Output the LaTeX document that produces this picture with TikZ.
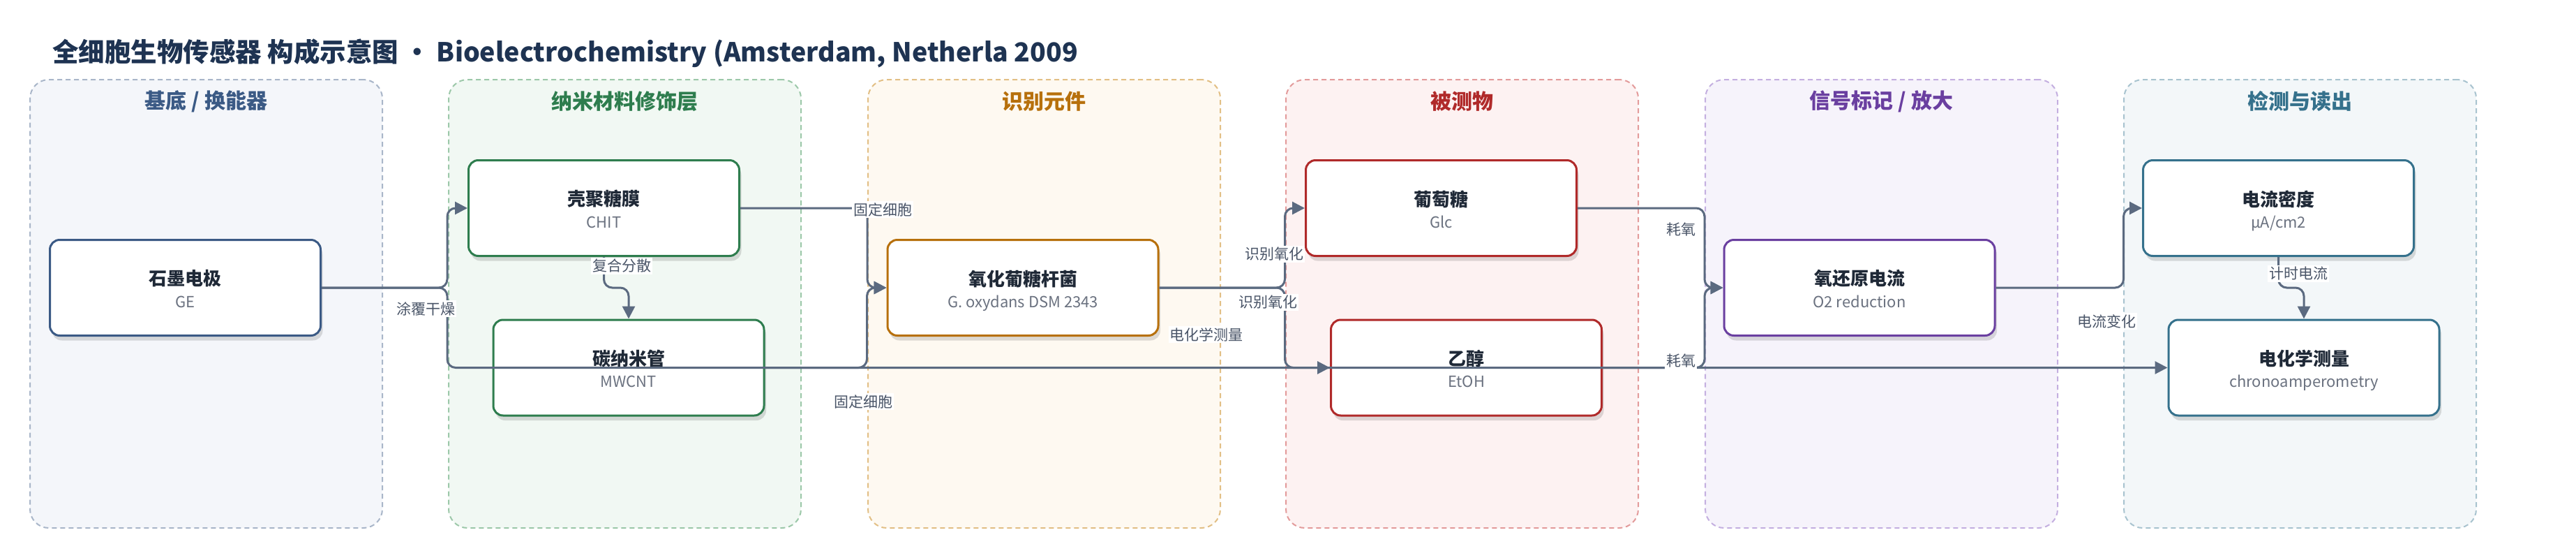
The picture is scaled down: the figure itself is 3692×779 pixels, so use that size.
\documentclass[tikz,border=0pt]{standalone}
\usepackage{fontspec}
\setmainfont{Noto Sans CJK SC}
\usetikzlibrary{arrows.meta,shadows,calc}
\definecolor{edgec}{HTML}{5B6A80}
\definecolor{titlec}{HTML}{1E3352}
\definecolor{ntc}{HTML}{1F2937}
\definecolor{nsc}{HTML}{6B7280}
\definecolor{elc}{HTML}{4A5568}
\definecolor{laneAf}{HTML}{F4F6FA}\definecolor{laneAd}{HTML}{A9B6C9}\definecolor{laneAt}{HTML}{3B5A85}
\definecolor{laneBf}{HTML}{F1F8F3}\definecolor{laneBd}{HTML}{9CC8A9}\definecolor{laneBt}{HTML}{2E7D4E}
\definecolor{laneCf}{HTML}{FEF9F1}\definecolor{laneCd}{HTML}{E2BF85}\definecolor{laneCt}{HTML}{B7700C}
\definecolor{laneDf}{HTML}{FDF2F2}\definecolor{laneDd}{HTML}{E39B9B}\definecolor{laneDt}{HTML}{B02A2A}
\definecolor{laneEf}{HTML}{F6F3FB}\definecolor{laneEd}{HTML}{C4AFE0}\definecolor{laneEt}{HTML}{6A3FA0}
\definecolor{laneFf}{HTML}{F3F7F9}\definecolor{laneFd}{HTML}{A8C3CF}\definecolor{laneFt}{HTML}{35718C}
\tikzset{
  lanebox/.style={rounded corners=27pt, dash pattern=on 7pt off 5pt, line width=2pt,
    minimum width=505pt, minimum height=642pt, inner sep=0pt},
  lanetitle/.style={font=\fontsize{30pt}{34pt}\selectfont\bfseries, anchor=center, inner sep=0pt},
  box/.style={rounded corners=14pt, line width=3pt, fill=white, minimum width=388pt,
    minimum height=137pt, inner sep=0pt,
    drop shadow={shadow xshift=3pt, shadow yshift=-7pt, opacity=0.13, fill=black}},
  ntitle/.style={font=\fontsize{26pt}{30pt}\selectfont\bfseries, text=ntc, inner sep=0pt},
  nsub/.style={font=\fontsize{22pt}{26pt}\selectfont, text=nsc, inner sep=0pt},
  edge/.style={draw=edgec, line width=3pt, rounded corners=12pt,
    -{Triangle[length=18pt,width=18pt]}},
  elabel/.style={font=\fontsize{21pt}{25pt}\selectfont, text=elc, fill=white, inner sep=2pt}
}
\newcommand\bnode[6]{%
  \node[box, draw=#4] (#1) at (#2,#3) {};
  \node[ntitle] (#1-t) at ([yshift=13pt]#1.center) {#5};
  \node[nsub, anchor=base] (#1-s) at ([yshift=-28pt]#1.center) {#6};
}
\begin{document}
\begin{tikzpicture}[x=1pt,y=-1pt]
\useasboundingbox (0,0) rectangle (3692,779);
\fill[white] (0,0) rectangle (3692,779);

\node[font=\fontsize{37.5pt}{41pt}\selectfont\bfseries, text=titlec, anchor=west, inner sep=0pt] (title) at (75,76)
  {全细胞生物传感器 构成示意图 • Bioelectrochemistry (Amsterdam, Netherla 2009};

% lanes
\node[lanebox, draw=laneAd, fill=laneAf] (lane1) at (295.5,435) {};
\node[lanebox, draw=laneBd, fill=laneBf] (lane2) at (895.5,435) {};
\node[lanebox, draw=laneCd, fill=laneCf] (lane3) at (1496.5,435) {};
\node[lanebox, draw=laneDd, fill=laneDf] (lane4) at (2095.5,435) {};
\node[lanebox, draw=laneEd, fill=laneEf] (lane5) at (2696.5,435) {};
\node[lanebox, draw=laneFd, fill=laneFf] (lane6) at (3296.5,435) {};
\node[lanetitle, text=laneAt] (lt1) at (295.5,145) {基底 / 换能器};
\node[lanetitle, text=laneBt] (lt2) at (895.5,145) {纳米材料修饰层};
\node[lanetitle, text=laneCt] (lt3) at (1496.5,145) {识别元件};
\node[lanetitle, text=laneDt] (lt4) at (2095.5,145) {被测物};
\node[lanetitle, text=laneEt] (lt5) at (2696.5,145) {信号标记 / 放大};
\node[lanetitle, text=laneFt] (lt6) at (3296.5,145) {检测与读出};

% nodes
\bnode{ge}{265.5}{412}{laneAt}{石墨电极}{GE}
\bnode{chit}{865.5}{298}{laneBt}{壳聚糖膜}{CHIT}
\bnode{mwcnt}{901}{526.5}{laneBt}{碳纳米管}{MWCNT}
\bnode{gox}{1466}{412}{laneCt}{氧化葡糖杆菌}{G. oxydans DSM 2343}
\bnode{glc}{2065.5}{298}{laneDt}{葡萄糖}{Glc}
\bnode{etoh}{2101.5}{526.5}{laneDt}{乙醇}{EtOH}
\bnode{o2}{2665}{412}{laneEt}{氧还原电流}{O2 reduction}
\bnode{cd}{3265.5}{298}{laneFt}{电流密度}{µA/cm2}
\bnode{ec}{3302}{526.5}{laneFt}{电化学测量}{chronoamperometry}

% edges
\draw[edge] (ge.east) -- ($(ge.east)+(180,0)$) |- (chit.west);
\draw[edge] (ge.east) -- ($(ge.east)+(180,0)$) |- (ec.west);
\draw[edge] (chit.south) -- ++(0,44) -| (mwcnt.north);
\draw[edge] (chit.east) -- ($(chit.east)+(182,0)$) |- (gox.west);
\draw[edge] (mwcnt.east) -- ($(mwcnt.east)+(146,0)$) |- (gox.west);
\draw[edge] (gox.east) -- ($(gox.east)+(180,0)$) |- (glc.west);
\draw[edge] (gox.east) -- ($(gox.east)+(180,0)$) |- (etoh.west);
\draw[edge] (glc.east) -- ($(glc.east)+(182,0)$) |- (o2.west);
\draw[edge] (etoh.east) -- ($(etoh.east)+(146,0)$) |- (o2.west);
\draw[edge] (o2.east) -- ($(o2.east)+(183,0)$) |- (cd.west);
\draw[edge] (cd.south) -- ++(0,44) -| (ec.north);

% edge labels
\node[elabel] (l1) at (610,442) {涂覆干燥};
\node[elabel] (l2) at (1729,479) {电化学测量};
\node[elabel] (l3) at (891,381) {复合分散};
\node[elabel] (l4) at (1265,300) {固定细胞};
\node[elabel] (l5) at (1237,575) {固定细胞};
\node[elabel] (l6) at (1826,364) {识别氧化};
\node[elabel] (l7) at (1817,433) {识别氧化};
\node[elabel] (l8) at (2409,329) {耗氧};
\node[elabel] (l9) at (2409,517) {耗氧};
\node[elabel] (l10) at (3019,460) {电流变化};
\node[elabel] (l11) at (3294,392) {计时电流};
\end{tikzpicture}
\end{document}
